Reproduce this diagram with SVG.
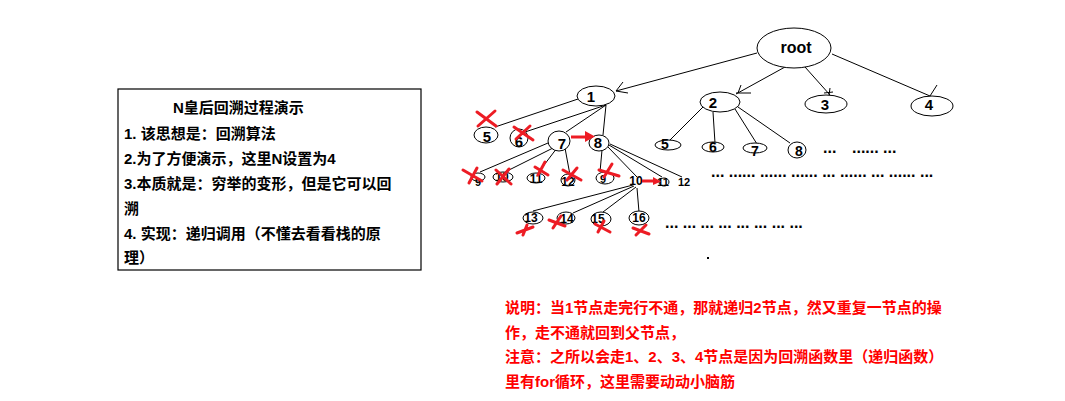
<svg xmlns="http://www.w3.org/2000/svg" width="1065" height="401" viewBox="0 0 1065 401">
<defs>
<style>
.bg{fill:#fff}
.nd{fill:#fff;stroke:#000;stroke-width:1}
.ln{stroke:#000;stroke-width:1;fill:none}
.lb{font-family:"Liberation Sans",Arial,sans-serif;font-weight:bold;fill:#000;text-anchor:middle}
.dots{font-family:"Liberation Sans",Arial,sans-serif;font-weight:bold;fill:#000;font-size:16px}
.x{stroke:#ed1c24;stroke-width:3;stroke-linecap:round;fill:none}
.ar{stroke:#ed1c24;stroke-width:3;fill:none}
.ah{fill:#ed1c24}
.box{fill:#fff;stroke:#000;stroke-width:1.2}
.bt{font-family:"Liberation Sans","Noto Sans CJK SC",sans-serif;font-weight:bold;font-size:15px;fill:#000}
.rt{font-family:"Liberation Sans","Noto Sans CJK SC",sans-serif;font-weight:bold;font-size:15px;fill:#ff0000}
</style>
</defs>
<rect class="bg" x="0" y="0" width="1065" height="401"/>

<g id="connectors">
<line class="ln" x1="757" y1="53" x2="616" y2="91"/>
<line class="ln" x1="785" y1="67" x2="736" y2="94"/>
<line class="ln" x1="805" y1="67" x2="830" y2="95"/>
<line class="ln" x1="832" y1="54" x2="930" y2="96"/>
<path class="ln" d="M616 91 L623 82 M616 91 L628 93"/>
<path class="ln" d="M736 93 L751 93 M738 93 L741 85"/>
<path class="ln" d="M824 93 L833 92 M830 88 L829 95"/>
<path class="ln" d="M930 96 L937 85"/>
<line class="ln" x1="578" y1="99" x2="495" y2="127"/>
<line class="ln" x1="606" y1="105" x2="525" y2="132"/>
<line class="ln" x1="606" y1="105" x2="566" y2="132"/>
<line class="ln" x1="606" y1="105" x2="603" y2="135"/>
<line class="ln" x1="703" y1="107" x2="668" y2="142"/>
<line class="ln" x1="713" y1="112" x2="715" y2="143"/>
<line class="ln" x1="735" y1="109" x2="757" y2="144"/>
<line class="ln" x1="738" y1="107" x2="790" y2="143"/>
<line class="ln" x1="548" y1="143" x2="480" y2="172"/>
<line class="ln" x1="555" y1="147" x2="505" y2="172"/>
<line class="ln" x1="557" y1="148" x2="538" y2="173"/>
<line class="ln" x1="565" y1="148" x2="570" y2="175"/>
<line class="ln" x1="602" y1="150" x2="600" y2="172"/>
<line class="ln" x1="608" y1="147" x2="637" y2="177"/>
<line class="ln" x1="609" y1="145" x2="662" y2="177"/>
<line class="ln" x1="610" y1="144" x2="682" y2="177"/>
<line class="ln" x1="633" y1="185" x2="533" y2="211"/>
<line class="ln" x1="634" y1="186" x2="573" y2="213"/>
<line class="ln" x1="636" y1="187" x2="603" y2="212"/>
<line class="ln" x1="637" y1="188" x2="639" y2="212"/>
</g>

<g id="root"><ellipse class="nd" cx="794" cy="48" rx="37" ry="20"/><text class="lb" x="796" y="53" font-size="16">root</text></g>
<g id="n1"><ellipse class="nd" cx="596" cy="96" rx="19" ry="10"/><text class="lb" x="591" y="102" font-size="15">1</text></g>
<g id="n2"><ellipse class="nd" cx="720" cy="102" rx="20" ry="10"/><text class="lb" x="713" y="108" font-size="15">2</text></g>
<g id="n3"><ellipse class="nd" cx="826" cy="104" rx="21" ry="9"/><text class="lb" x="825" y="110" font-size="15">3</text></g>
<g id="n4"><ellipse class="nd" cx="932" cy="106" rx="21" ry="10"/><text class="lb" x="929" y="110" font-size="15">4</text></g>

<g id="n1-5"><ellipse class="nd" cx="486" cy="135" rx="12" ry="8"/><text class="lb" x="487" y="142" font-size="15">5</text></g>
<g id="n1-6"><ellipse class="nd" cx="519" cy="138" rx="9" ry="9"/><text class="lb" x="519" y="147" font-size="15">6</text></g>
<g id="n1-7"><ellipse class="nd" cx="559" cy="141" rx="11" ry="10"/><text class="lb" x="562" y="149" font-size="15">7</text></g>
<g id="n1-8"><ellipse class="nd" cx="599" cy="143" rx="10" ry="8"/><text class="lb" x="598" y="148" font-size="15">8</text></g>

<g id="n2-5"><ellipse class="nd" cx="668" cy="145" rx="13" ry="5"/><text class="lb" x="665" y="149" font-size="14">5</text></g>
<g id="n2-6"><ellipse class="nd" cx="713" cy="147" rx="11" ry="5"/><text class="lb" x="713" y="152" font-size="14">6</text></g>
<g id="n2-7"><ellipse class="nd" cx="755" cy="148" rx="12" ry="5"/><text class="lb" x="755" y="156" font-size="14">7</text></g>
<g id="n2-8"><ellipse class="nd" cx="797" cy="150" rx="9" ry="8"/><text class="lb" x="799" y="156" font-size="14">8</text></g>

<g id="n7-9"><ellipse class="nd" cx="478" cy="177" rx="7" ry="4"/><text class="lb" x="478" y="186" font-size="11">9</text></g>
<g id="n7-10"><ellipse class="nd" cx="503" cy="177" rx="10" ry="5"/><text class="lb" x="502" y="181" font-size="12">10</text></g>
<g id="n7-11"><ellipse class="nd" cx="536" cy="178" rx="9" ry="5"/><text class="lb" x="536" y="183" font-size="12">11</text></g>
<g id="n7-12"><ellipse class="nd" cx="568" cy="180" rx="7" ry="6"/><text class="lb" x="568" y="186" font-size="12">12</text></g>
<g id="n8-9"><ellipse class="nd" cx="605" cy="178" rx="9" ry="6"/><text class="lb" x="603" y="183" font-size="11">9</text></g>
<g id="n8-10"><text class="lb" x="636" y="185" font-size="12">10</text></g>
<g id="n8-11"><ellipse class="nd" cx="664" cy="182" rx="5" ry="4"/><text class="lb" x="663" y="186" font-size="11">11</text></g>
<g id="n8-12"><text class="lb" x="684" y="186" font-size="11">12</text></g>

<g id="n10-13"><ellipse class="nd" cx="533" cy="218" rx="10" ry="6"/><text class="lb" x="531" y="222" font-size="12">13</text></g>
<g id="n10-14"><ellipse class="nd" cx="566" cy="218" rx="9" ry="6"/><text class="lb" x="567" y="223" font-size="12">14</text></g>
<g id="n10-15"><ellipse class="nd" cx="601" cy="219" rx="10" ry="7"/><text class="lb" x="598" y="223" font-size="12">15</text></g>
<g id="n10-16"><ellipse class="nd" cx="639" cy="218" rx="10" ry="7"/><text class="lb" x="639" y="222" font-size="12">16</text></g>

<g id="ellipsis">
<text class="dots" x="823" y="153">...</text>
<text class="dots" x="852" y="153">...... ...</text>
<text class="dots" x="711" y="177">... ...... ...... ...... ... ...... ... ...... ...</text>
<text class="dots" x="665" y="228">... ... ... ... ... ... ... ...</text>
<rect x="707" y="257" width="2" height="2" fill="#000"/>
</g>

<g id="marks">
<path class="x" d="M477 112 L496 126 M478 126 L495 111"/>
<path class="x" d="M514 127 L533 140 M516 139 L530 126"/>
<path class="x" d="M463 170 L482 181 M469 183 L477 168"/>
<path class="x" d="M496 170 L511 184 M497 184 L509 169"/>
<path class="x" d="M535 167 L548 175 M538 175 L545 162"/>
<path class="x" d="M563 170 L581 180 M567 180 L577 168"/>
<path class="x" d="M599 170 L619 176 M604 177 L612 164"/>
<path class="x" d="M517 233 L533 227 M523 235 L527 225"/>
<path class="x" d="M549 220 L565 226 M553 228 L561 216"/>
<path class="x" d="M595 224 L610 232 M598 232 L604 221"/>
<path class="x" d="M633 228 L649 234 M636 235 L646 225"/>
<line class="ar" x1="571" y1="137" x2="587" y2="137"/>
<polygon class="ah" points="585,131 595,136.5 585,142"/>
<line class="ar" x1="642" y1="181" x2="655" y2="181"/>
<polygon class="ah" points="653,177 661,181.5 653,185"/>
</g>

<g id="note">
<rect class="box" x="118" y="89" width="303" height="181"/>
<text class="bt" x="173" y="113">N皇后回溯过程演示</text>
<text class="bt" x="124" y="139">1. 该思想是：回溯算法</text>
<text class="bt" x="124" y="164">2.为了方便演示，这里N设置为4</text>
<text class="bt" x="124" y="189">3.本质就是：穷举的变形，但是它可以回</text>
<text class="bt" x="124" y="214">溯</text>
<text class="bt" x="124" y="239">4. 实现：递归调用（不懂去看看栈的原</text>
<text class="bt" x="124" y="263">理）</text>
</g>

<g id="explanation">
<text class="rt" x="505" y="313">说明：当1节点走完行不通，那就递归2节点，然又重复一节点的操</text>
<text class="rt" x="505" y="338">作，走不通就回到父节点，</text>
<text class="rt" x="505" y="362">注意：之所以会走1、2、3、4节点是因为回溯函数里（递归函数）</text>
<text class="rt" x="505" y="387">里有for循环，这里需要动动小脑筋</text>
</g>
</svg>
